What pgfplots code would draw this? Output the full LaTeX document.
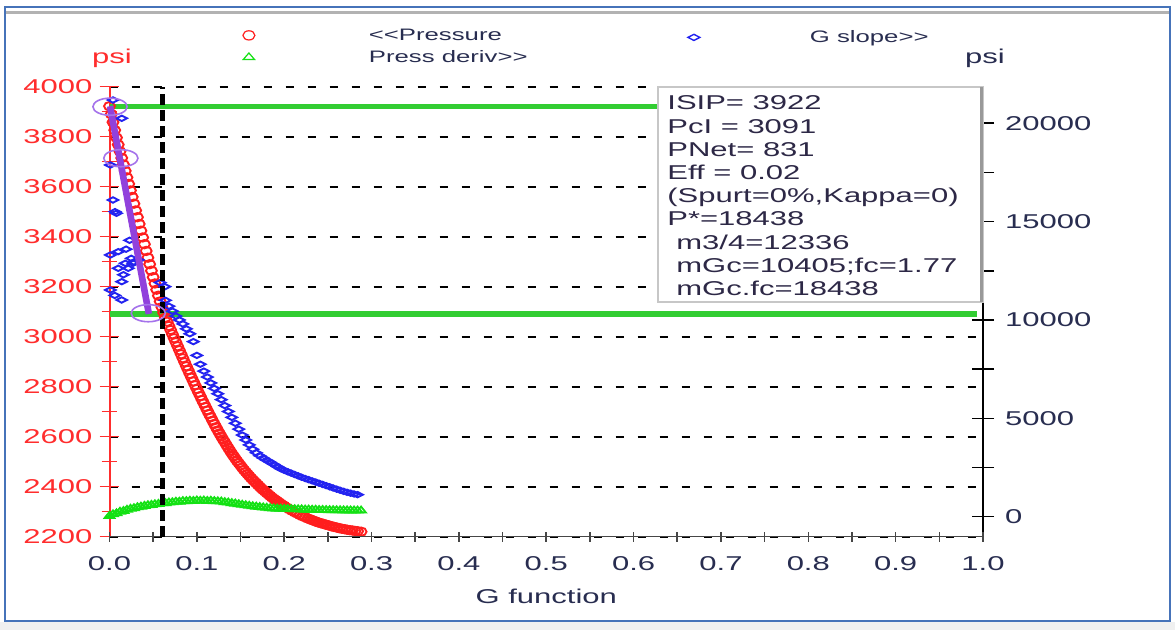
\documentclass[border=0pt]{standalone}
\usepackage{fontspec}
\setmainfont{Liberation Sans}[FakeStretch=1.55]
\usepackage{pgfplots}
\pgfplotsset{compat=1.18}

\definecolor{pres}{RGB}{255,30,30}
\definecolor{slope}{RGB}{35,35,240}
\definecolor{deriv}{RGB}{20,225,20}
\definecolor{isipgreen}{RGB}{50,205,50}
\definecolor{fitline}{RGB}{145,65,220}
\definecolor{fitring}{RGB}{165,115,235}
\definecolor{labelink}{RGB}{40,45,80}
\definecolor{boxink}{RGB}{45,40,70}
\definecolor{leftink}{RGB}{255,45,45}
\definecolor{axisgray}{RGB}{70,70,70}
\definecolor{framebl}{RGB}{70,115,185}

\newcommand{\tickfont}{\fontsize{10}{12}\selectfont}
\newcommand{\legfont}{\fontsize{8.3}{10}\selectfont}

% shared frame of the three overlaid axes
\pgfplotsset{
  gframe/.style={
    scale only axis, width=436.75pt, height=225pt,
    xmin=0, xmax=1, at={(54.75pt,46.65pt)}, anchor=south west,
    clip=false, axis line style={-},
    /pgf/number format/1000 sep={},
    /pgf/number format/assume math mode=true,
  },
  dotlegend/.style={
    legend image code/.code={\draw[##1] plot coordinates {(0pt,0pt)};},
    legend cell align=left,
  },
}

\begin{document}
\begin{tikzpicture}
\useasboundingbox (0,0) rectangle (587.5pt,315pt);
\fill[white] (0,0) rectangle (587.5pt,315pt);
\fill[black!6] (0,0) rectangle (587.5pt,4pt);
\draw[framebl, line width=1pt] (2.5pt,4.5pt) rectangle (585pt,311.5pt);
\draw[black!30, line width=1.5pt] (3.2pt,308.5pt) -- (584.3pt,308.5pt);

% ---------- pressure (left scale) ----------
\begin{axis}[gframe,
  ymin=2200, ymax=4000,
  axis x line=none, axis y line*=left,
  y axis line style={draw=leftink, line width=1pt, -},
  ytick={2200,2400,...,4000}, minor y tick num=1,
  tick align=center, major tick length=10pt, minor tick length=8pt,
  tick style={leftink, line width=0.8pt},
  yticklabel style={text=leftink, font=\tickfont},
  ymajorgrids,
  major grid style={black, line width=1pt, dash pattern=on 4pt off 7pt},
  dotlegend,
  legend style={at={(axis description cs:0.1523,1.1327)}, anchor=north west,
    draw=none, fill=none, inner sep=0pt, row sep=3pt, font=\legfont,
    text=labelink, nodes={inner sep=0pt, text height=6.5pt, text depth=1.5pt}},
]
\addlegendimage{mark=o, color=pres, mark size=2.3pt, mark options={xscale=1.3, line width=0.6pt}}
\addlegendentry{\hspace*{57pt}<\kern0pt<Pressure}
\addlegendimage{mark=triangle, color=deriv, mark size=2.2pt, mark options={xscale=1.5, line width=0.6pt}}
\addlegendentry{\hspace*{57pt}Press deriv>\kern0pt>}

% ISIP and closure levels
\addplot[forget plot, isipgreen, line width=2.6pt] coordinates {(0,3922) (0.993,3922)};
\addplot[forget plot, isipgreen, line width=2.6pt] coordinates {(0,3091) (0.993,3091)};

% shut-in pressure
\addplot[forget plot, only marks, mark=o, color=pres, mark size=2.1pt,
  mark options={xscale=1.3, line width=0.95pt}] coordinates {
(0.000,3922) (0.002,3890) (0.004,3858) (0.006,3826) (0.008,3796) (0.010,3768)
(0.012,3741) (0.014,3715) (0.016,3689) (0.018,3663) (0.020,3637) (0.022,3611)
(0.024,3585) (0.026,3559) (0.028,3532) (0.030,3505) (0.032,3478) (0.034,3451)
(0.036,3424) (0.038,3397) (0.040,3370) (0.042,3343) (0.044,3316) (0.046,3290)
(0.048,3264) (0.050,3238) (0.052,3213) (0.054,3188) (0.056,3164) (0.058,3141)
(0.060,3118) (0.062,3096) (0.064,3076) (0.066,3060) (0.068,3043) (0.070,3027)
(0.072,3010) (0.074,2994) (0.076,2978) (0.078,2962) (0.080,2946) (0.082,2930)
(0.084,2914) (0.086,2898) (0.088,2882) (0.090,2867) (0.092,2851) (0.094,2836)
(0.096,2821) (0.098,2806) (0.100,2791) (0.102,2776) (0.104,2762) (0.106,2747)
(0.108,2733) (0.110,2719) (0.112,2705) (0.114,2691) (0.116,2678) (0.118,2664)
(0.120,2651) (0.122,2638) (0.124,2625) (0.126,2613) (0.128,2601) (0.130,2589)
(0.132,2578) (0.134,2566) (0.136,2555) (0.138,2544) (0.140,2533) (0.142,2523)
(0.144,2513) (0.146,2503) (0.148,2494) (0.150,2485) (0.152,2476) (0.154,2467)
(0.156,2459) (0.158,2451) (0.160,2443) (0.162,2435) (0.164,2428) (0.166,2421)
(0.168,2414) (0.170,2407) (0.172,2400) (0.174,2393) (0.176,2387) (0.178,2381)
(0.180,2375) (0.182,2369) (0.184,2363) (0.186,2357) (0.188,2352) (0.190,2347)
(0.192,2342) (0.194,2337) (0.196,2332) (0.198,2327) (0.200,2323) (0.203,2316)
(0.206,2310) (0.209,2304) (0.212,2298) (0.215,2293) (0.218,2287) (0.221,2282)
(0.224,2278) (0.227,2273) (0.230,2269) (0.233,2265) (0.236,2261) (0.239,2257)
(0.242,2254) (0.245,2251) (0.248,2248) (0.251,2245) (0.254,2242) (0.257,2239)
(0.260,2237) (0.263,2234) (0.266,2232) (0.269,2230) (0.272,2228) (0.275,2226)
(0.278,2225) (0.281,2223) (0.284,2222) (0.288,2220)
};
\node[text=leftink, font=\tickfont, yshift=14pt, xshift=1.25pt] at (axis description cs:0,1) {psi};
\end{axis}

% ---------- G slope and derivative (right scale) ----------
\begin{axis}[gframe,
  ymin=-1017, ymax=21861,
  axis x line=none, axis y line*=right,
  y axis line style={draw=black, line width=1pt, -},
  ytick={0,5000,10000,15000,20000}, minor y tick num=1,
  scaled y ticks=false,
  tick align=center, major tick length=11pt, minor tick length=11pt,
  tick style={black, line width=0.8pt},
  yticklabel style={text=labelink, font=\tickfont, xshift=2pt},
  dotlegend,
  legend style={at={(axis description cs:0.6618,1.1282)}, anchor=north west,
    draw=none, fill=none, inner sep=0pt, font=\legfont,
    text=labelink, nodes={inner sep=0pt, text height=6.5pt, text depth=1.5pt}},
]
\addlegendimage{mark=diamond, color=slope, mark size=1.8pt, mark options={xscale=2.2, yscale=0.85, line width=0.7pt}}
\addlegendentry{\hspace*{55pt}G slope>\kern0pt>}

% G slope
\addplot[forget plot, only marks, mark=diamond, color=slope, mark size=1.6pt,
  mark options={xscale=2.2, yscale=0.85, line width=0.95pt}] coordinates {
(0.004,21185) (0.014,20254) (0.001,17880) (0.004,16101) (0.0063,15508)
(0.008,15425) (0.023,14052) (0.019,13600) (0.001,13305) (0.010,13472)
(0.018,12883) (0.0215,12629) (0.025,13135) (0.027,12883) (0.028,12950)
(0.033,13051) (0.010,12629) (0.016,12300) (0.014,11947) (0.001,11525)
(0.006,11250) (0.014,11017) (0.058,11900) (0.0635,11694)
(0.064,11000) (0.068,10700) (0.072,10450) (0.076,10200) (0.080,10000)
(0.084,9800) (0.088,9550) (0.092,9300) (0.096,8900) (0.100,8200)
(0.104,7750) (0.108,7400) (0.112,7100) (0.116,6800) (0.120,6520)
(0.124,6250) (0.128,5950) (0.132,5650) (0.136,5350) (0.140,5050)
(0.144,4750) (0.148,4450) (0.152,4150) (0.156,3900) (0.160,3650)
(0.164,3430) (0.168,3250) (0.172,3100) (0.176,2980) (0.180,2870)
(0.184,2770) (0.188,2660) (0.192,2550) (0.196,2440) (0.200,2360)
(0.204,2285) (0.208,2215) (0.212,2145) (0.216,2075) (0.220,2005)
(0.224,1940) (0.228,1880) (0.232,1820) (0.236,1760) (0.240,1700)
(0.244,1640) (0.248,1580) (0.252,1520) (0.256,1460) (0.260,1400)
(0.264,1345) (0.268,1290) (0.272,1240) (0.276,1195) (0.280,1155)
(0.284,1120)
};

% pressure derivative
\addplot[forget plot, only marks, mark=triangle, color=deriv, mark size=2pt,
  mark options={xscale=1.4, line width=0.9pt}] coordinates {
(0.000,40) (0.004,120) (0.008,170) (0.012,250) (0.016,290) (0.020,350)
(0.024,400) (0.028,430) (0.032,480) (0.036,510) (0.040,550) (0.044,580)
(0.048,600) (0.052,630) (0.056,650) (0.060,680) (0.064,690) (0.068,720)
(0.072,730) (0.076,760) (0.080,760) (0.084,790) (0.088,790) (0.092,810)
(0.096,800) (0.100,820) (0.104,810) (0.108,820) (0.112,800) (0.116,810)
(0.120,790) (0.124,780) (0.128,770) (0.132,740) (0.136,720) (0.140,690)
(0.144,665) (0.148,635) (0.152,605) (0.156,580) (0.160,555) (0.164,530)
(0.168,510) (0.172,490) (0.176,470) (0.180,455) (0.184,435) (0.188,420)
(0.192,410) (0.196,400) (0.200,395) (0.204,390) (0.208,385) (0.212,380)
(0.216,375) (0.220,370) (0.224,360) (0.228,360) (0.232,350) (0.236,350)
(0.240,340) (0.244,340) (0.248,335) (0.252,330) (0.256,330) (0.260,325)
(0.264,325) (0.268,320) (0.272,320) (0.276,315) (0.280,315) (0.284,310)
(0.288,310)
};
\node[text=labelink, font=\tickfont, yshift=14pt, xshift=1pt] at (axis description cs:1,1) {psi};
\end{axis}

% ---------- G-function fit, closure marker and x axis ----------
\begin{axis}[gframe,
  ymin=2200, ymax=4000,
  axis y line=none, axis x line*=bottom,
  x axis line style={draw=axisgray, line width=0.8pt, -},
  xtick={0,0.1,0.2,0.3,0.4,0.5,0.6,0.7,0.8,0.9,1},
  xticklabels={0.0,0.1,0.2,0.3,0.4,0.5,0.6,0.7,0.8,0.9,1.0},
  minor x tick num=1,
  tick align=center, major tick length=5pt, minor tick length=5pt,
  tick style={axisgray, line width=0.8pt},
  xticklabel style={text=labelink, font=\tickfont, yshift=-4pt},
  xlabel={G function},
  xlabel style={at={(axis description cs:0.5,0)}, anchor=center, yshift=-30pt,
    text=labelink, font=\fontsize{10}{12}\selectfont},
]
\addplot[fitline, line width=3.3pt] coordinates {(0.0006,3922) (0.0451,3091)};
\addplot[only marks, mark=o, color=fitring, mark size=4.5pt,
  mark options={xscale=1.9, yscale=0.95, line width=0.8pt}] coordinates {
(0.0006,3920) (0.013,3714) (0.0444,3094)
};
\addplot[black, line width=2.5pt, dash pattern=on 5.5pt off 2.5pt] coordinates {(0.061,2200) (0.061,4000)};
\end{axis}

% results box
\fill[white] (329pt,164pt) rectangle (491.5pt,271.5pt);
\draw[black!22, line width=0.6pt] (329pt,164pt) rectangle (491.5pt,271.5pt);
\draw[black!40, line width=1.4pt] (490.8pt,164pt) -- (490.8pt,271.5pt);
\begin{scope}[every node/.style={anchor=base west, inner sep=0pt, text=boxink, font=\fontsize{10}{12}\selectfont}]
\node at (333.5pt,260.0pt) {ISIP= 3922};
\node at (333.5pt,248.4pt) {PcI = 3091};
\node at (333.5pt,236.8pt) {PNet= 831};
\node at (333.5pt,225.2pt) {Eff = 0.02};
\node at (333.5pt,213.6pt) {(Spurt=0\%,Kappa=0)};
\node at (333.5pt,202.0pt) {P*=18438};
\node at (338.0pt,190.4pt) {m3/4=12336};
\node at (338.0pt,178.8pt) {mGc=10405;fc=1.77};
\node at (338.0pt,167.2pt) {mGc.fc=18438};
\end{scope}
\end{tikzpicture}
\end{document}
